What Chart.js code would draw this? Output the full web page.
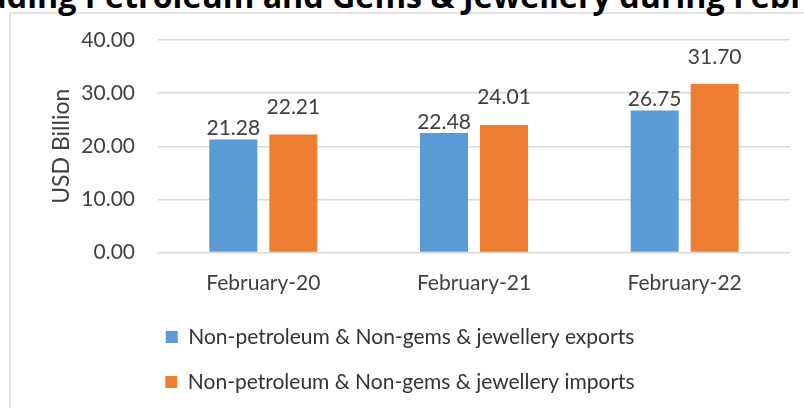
<!DOCTYPE html>
<html>
<head>
<meta charset="utf-8">
<script src="https://cdn.jsdelivr.net/npm/chart.js@4.4.1/dist/chart.umd.min.js"></script>
<style>
  html, body { margin: 0; padding: 0; background: #ffffff; }
  #wrap { position: relative; width: 804px; height: 408px; overflow: hidden; background: #fff; }
  #title {
    position: absolute; left: 0px; top: -15px; white-space: nowrap;
    font-family: "Open Sans", sans-serif; font-weight: 700; font-size: 30px; line-height: 30px; color: #000;
  }
  #frame {
    position: absolute; left: 9px; top: 12px; width: 800px; height: 400px;
    border-left: 2px solid #e3e3e3; border-top: 2px solid #e3e3e3;
  }
  #c { position: absolute; left: 0; top: 0; }
</style>
</head>
<body>
<div id="wrap">
  <div id="frame"></div>
  <div id="title">Trade Excluding <span id="a1">Petroleum</span> and Gems &amp; Jewellery <span id="a2">during</span> February</div>
  <canvas id="c" width="804" height="408"></canvas>
</div>
<script>
const categories = ["February-20", "February-21", "February-22"];
const exportsValues = [21.28, 22.48, 26.75];
const importsValues = [22.21, 24.01, 31.70];
const seriesNames = [
  "Non-petroleum & Non-gems & jewellery exports",
  "Non-petroleum & Non-gems & jewellery imports"
];
const yTicks = [0, 10, 20, 30, 40];
const yAxisTitle = "USD Billion";

// place the cropped heading so that its words sit where they do in the reference
(function () {
  const t = document.getElementById('title');
  const a1 = document.getElementById('a1');
  const a2 = document.getElementById('a2');
  let fs = 30;
  const span = a2.offsetLeft - a1.offsetLeft;
  fs = fs * (619 - 85) / span;
  t.style.fontSize = fs + 'px';
  t.style.lineHeight = fs + 'px';
  t.style.top = (9 - 0.888 * fs) + 'px';
  t.style.left = (85 - a1.offsetLeft) + 'px';
})();

const FONT = "Lato";
const labelOffsets = [4.5, 20.5];

const valueLabels = {
  id: 'valueLabels',
  afterDatasetsDraw(chart) {
    const ctx = chart.ctx;
    ctx.save();
    ctx.font = '21px ' + FONT;
    ctx.fillStyle = '#404040';
    ctx.textAlign = 'center';
    ctx.textBaseline = 'alphabetic';
    chart.data.datasets.forEach((ds, i) => {
      chart.getDatasetMeta(i).data.forEach((bar, j) => {
        ctx.fillText(ds.data[j].toFixed(2), bar.x, bar.y - labelOffsets[i]);
      });
    });
    ctx.restore();
  }
};

new Chart(document.getElementById('c'), {
  type: 'bar',
  data: {
    labels: categories,
    datasets: [
      { label: seriesNames[0], data: exportsValues, backgroundColor: '#5B9BD5', borderWidth: 0 },
      { label: seriesNames[1], data: importsValues, backgroundColor: '#ED7D31', borderWidth: 0 }
    ]
  },
  options: {
    responsive: false,
    animation: false,
    devicePixelRatio: 1,
    categoryPercentage: 0.57,
    barPercentage: 0.8,
    layout: { padding: { left: 10, right: 14, top: 40, bottom: 5.5 } },
    plugins: {
      title: { display: false },
      tooltip: { enabled: false },
      legend: {
        position: 'bottom',
        labels: {
          boxWidth: 12, boxHeight: 12, padding: 24,
          color: '#333333',
          font: { family: FONT, size: 21 }
        }
      }
    },
    scales: {
      x: {
        grid: { display: false, drawTicks: false },
        border: { display: false },
        ticks: { color: '#404040', font: { family: FONT, size: 21 }, padding: 18, maxRotation: 0 },
        afterFit(s) { s.height = 50; }
      },
      y: {
        min: 0, max: 40,
        afterBuildTicks(s) { s.ticks = yTicks.map(v => ({ value: v })); },
        grid: { color: '#d9d9d9', lineWidth: 1.5, drawTicks: false },
        border: { display: false },
        ticks: {
          color: '#404040', font: { family: FONT, size: 21 }, padding: 23,
          callback: v => Number(v).toFixed(2)
        },
        title: {
          display: true, text: yAxisTitle, color: '#404040',
          font: { family: FONT, size: 23 }, padding: { top: 38, bottom: 0 }
        },
        afterFit(s) { s.width = 148; }
      }
    }
  },
  plugins: [valueLabels]
});
</script>
</body>
</html>
